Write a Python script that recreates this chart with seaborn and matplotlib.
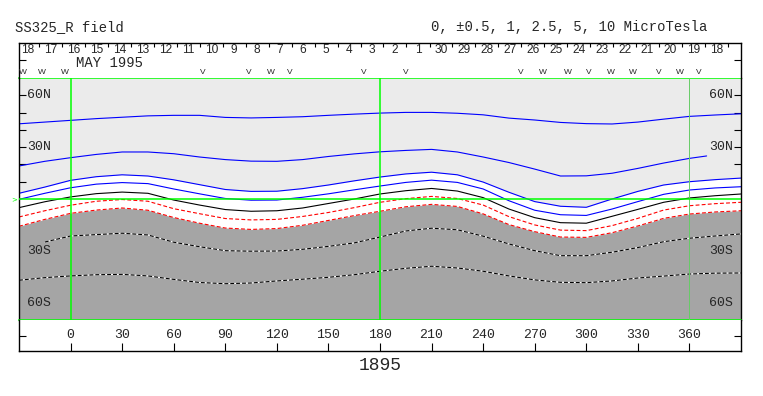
import numpy as np
import pandas as pd
import matplotlib
matplotlib.use('Agg')
import matplotlib.pyplot as plt
import seaborn as sns

# Carrington longitude grid (deg) and contour latitudes
LON = [-30, -15, 0, 15, 30, 45, 60, 75, 90, 105, 120, 135, 150, 165, 180,
       195, 210, 225, 240, 255, 270, 285, 300, 315, 330, 345, 360, 375, 390]

L1 = [43.5, 44.5, 45.5, 46.5, 47.3, 48.1, 48.4, 48.4, 47.2, 46.9, 47.2, 47.6, 48.4, 49.1, 49.7,
      50.1, 50.1, 49.6, 48.7, 46.8, 45.7, 44.3, 43.6, 43.4, 44.5, 46.2, 47.8, 48.6, 49.3]
L2_LON = LON[:27] + [370]
L2 = [19.1, 21.8, 23.9, 25.8, 27.2, 27.2, 26.2, 24.3, 22.8, 21.9, 21.8, 22.8, 24.6, 26.1, 27.3,
      28.1, 28.7, 27.2, 24.3, 21.1, 17.3, 13.3, 13.4, 14.9, 17.7, 20.8, 23.5, 24.9]
L3 = [3.3, 6.9, 10.8, 12.9, 14.0, 13.3, 11.1, 8.3, 5.5, 4.4, 4.5, 6.0, 8.1, 10.5, 12.7,
      14.5, 15.5, 14.0, 9.8, 3.9, -1.5, -4.2, -4.8, 0.0, 4.4, 8.1, 10.0, 11.2, 12.1]
L4 = [-0.2, 3.3, 6.5, 8.6, 9.5, 8.9, 5.8, 3.0, 0.3, -0.7, -0.6, 1.0, 3.0, 5.3, 7.5,
      9.6, 10.9, 9.6, 5.8, -1.0, -6.5, -9.1, -9.5, -5.8, -1.5, 2.7, 5.2, 6.4, 7.1]
L5 = [-5.0, -1.6, 1.2, 3.1, 4.0, 3.3, -0.6, -3.5, -6.1, -7.1, -6.8, -5.2, -2.6, 0.0, 2.9,
      4.8, 6.1, 4.6, 0.8, -5.8, -10.8, -13.7, -14.0, -10.0, -6.0, -1.9, 0.6, 1.9, 2.9]
L6 = [-10.4, -6.8, -3.6, -1.3, -0.3, -1.3, -5.6, -8.5, -11.3, -12.1, -11.8, -10.1, -7.8, -5.0, -1.9,
      0.2, 1.5, 0.3, -3.5, -10.2, -15.0, -18.0, -18.3, -15.4, -11.2, -6.4, -3.9, -2.7, -1.9]
L7 = [-15.8, -11.8, -8.3, -6.4, -5.2, -6.5, -10.7, -14.0, -16.8, -17.6, -17.1, -15.2, -12.4, -9.6, -7.1,
      -4.5, -3.1, -4.3, -8.6, -14.8, -18.9, -22.0, -22.2, -19.5, -15.6, -11.2, -8.7, -7.5, -6.8]
L8_LON = LON[1:]
L8 = [-24.9, -21.4, -20.6, -19.8, -20.8, -25.0, -27.6, -29.9, -30.2, -30.1, -29.1, -27.4, -25.4, -22.0,
      -18.5, -16.9, -17.8, -21.5, -26.0, -29.9, -32.8, -32.8, -30.8, -28.1, -24.7, -22.7, -21.4, -20.2]
L9 = [-47.0, -45.5, -44.5, -43.8, -43.6, -44.5, -46.5, -48.3, -49.0, -48.6, -47.4, -46.4, -45.3, -43.8, -41.8,
      -40.1, -38.9, -39.9, -41.8, -44.5, -46.8, -48.2, -48.4, -47.4, -45.7, -44.6, -43.4, -42.9, -42.8]

LAT_TICKS = [60, 30, -30, -60]
LAT_LABELS = ['60N', '30N', '30S', '60S']
LON_TICKS = [0, 30, 60, 90, 120, 150, 180, 210, 240, 270, 300, 330, 360]

# day-of-month labels along the top (time runs right to left)
DAY_LABELS = ['18', '19', '20', '21', '22', '23', '24', '25', '26', '27', '28', '29', '30',
              '1', '2', '3', '4', '5', '6', '7', '8', '9', '10', '11', '12', '13', '14',
              '15', '16', '17', '18']
DAY_LON = [375.7, 362.3, 349.0, 335.6, 322.3, 308.9, 295.6, 282.2, 268.8, 255.5, 242.1,
           228.8, 215.4, 202.1, 188.7, 175.3, 162.0, 148.6, 135.3, 121.9, 108.6, 95.2,
           81.8, 68.5, 55.1, 41.8, 28.4, 15.1, 1.7, -11.6, -25.0]
DAY_TICKS = [382.4, 369.0, 355.7, 342.3, 329.0, 315.6, 302.3, 288.9, 275.5, 262.2, 248.8,
             235.5, 222.1, 208.8, 195.4, 182.0, 168.7, 155.3, 142.0, 128.6, 115.3, 101.9,
             88.5, 75.2, 61.8, 48.5, 35.1, 21.8, 8.4, -4.9, -18.3]

MARK_LON = [-27.9, -16.9, -3.5, 76.8, 103.5, 116.3, 127.4, 170.4, 194.8, 261.7, 274.5,
            289.1, 301.3, 314.6, 327.4, 342.0, 354.2, 365.2]
MARK_TXT = ['W', 'W', 'W', 'V', 'V', 'W', 'V', 'V', 'V', 'V', 'W',
            'W', 'V', 'W', 'W', 'V', 'W', 'V']

sns.set_theme(style='white')
plt.rcParams['font.family'] = ['Liberation Mono', 'DejaVu Sans']

W, H = 763, 396
fig = plt.figure(figsize=(W / 100, H / 100), dpi=100)
ax = fig.add_axes([19 / W, 76 / H, 722 / W, 242 / H])
axt = fig.add_axes([19 / W, 318 / H, 722 / W, 35.3 / H])
axb = fig.add_axes([19 / W, 45 / H, 722 / W, 31 / H])

GREEN = '#00ff00'
LW = 0.8

# ---- main map
ax.set_facecolor('#ebebeb')
ax.fill_between(LON, L7, L3, color='white', lw=0, zorder=1)
ax.fill_between(LON, -70, L7, color='#a5a5a5', lw=0, zorder=1)

for yy in [L1, L3, L4]:
    sns.lineplot(x=LON, y=yy, ax=ax, color='#0000ff', lw=LW, sort=False, estimator=None)
sns.lineplot(x=L2_LON, y=L2, ax=ax, color='#0000ff', lw=LW, sort=False, estimator=None)
sns.lineplot(x=LON, y=L5, ax=ax, color='black', lw=LW, sort=False, estimator=None)
for yy in [L6, L7]:
    sns.lineplot(x=LON, y=yy, ax=ax, color='#ff0000', lw=LW, sort=False, estimator=None,
                 linestyle=(0, (3.5, 2)))
for xx, yy in [(L8_LON, L8), (LON, L9)]:
    sns.lineplot(x=xx, y=yy, ax=ax, color='white', lw=LW, sort=False, estimator=None)
    sns.lineplot(x=xx, y=yy, ax=ax, color='black', lw=LW, sort=False, estimator=None,
                 linestyle=(0, (3.5, 1.8)))

ax.axvline(0, color=GREEN, lw=1.1, zorder=5)
ax.axvline(180, color=GREEN, lw=1.1, zorder=5)
ax.axvline(360, color='#66cc66', lw=0.7, zorder=5)
ax.axhline(0, color=GREEN, lw=1.1, zorder=5)
ax.text(-30.8, 0, '>', color=GREEN, ha='right', va='center', fontsize=5,
        family='DejaVu Sans', clip_on=False)

ax.set_xlim(-30, 390)
ax.set_ylim(-70, 70)
ax.set_xticks([])
ax.set_yticks(list(range(-60, 61, 10)))
ax.tick_params(axis='y', direction='in', length=5, width=0.8, color='black',
               left=True, right=True, labelleft=False, labelright=False)
for s in ['top', 'bottom']:
    ax.spines[s].set_color(GREEN)
    ax.spines[s].set_linewidth(1.1)
for s in ['left', 'right']:
    ax.spines[s].set_color('black')
    ax.spines[s].set_linewidth(1.0)
ax.set_xlabel('')
ax.set_ylabel('')
for v, s in zip(LAT_TICKS, LAT_LABELS):
    ax.text(-25.2, v, s, ha='left', va='center', fontsize=9.5, zorder=6)
    ax.text(385.4, v, s, ha='right', va='center', fontsize=9.5, zorder=6)

# ---- top date strip
axt.set_facecolor('white')
axt.set_xlim(-30, 390)
axt.set_ylim(0, 1)
axt.spines['bottom'].set_visible(False)
for s in ['top', 'left', 'right']:
    axt.spines[s].set_color('black')
    axt.spines[s].set_linewidth(1.0)
axt.set_xticks(DAY_TICKS)
axt.tick_params(axis='x', direction='in', length=3, width=0.8, color='black',
                top=True, bottom=False, labeltop=False, labelbottom=False)
axt.set_yticks([0.5])
axt.tick_params(axis='y', direction='in', length=5, width=0.8, color='black',
                left=True, right=True, labelleft=False, labelright=False)
for x, s in zip(DAY_LON, DAY_LABELS):
    axt.text(x, 0.78, s, ha='center', va='center', fontsize=8.6, family='Liberation Sans')
axt.text(3, 0.43, 'MAY 1995', ha='left', va='center', fontsize=10)
for x, s in zip(MARK_LON, MARK_TXT):
    axt.text(x, 0.15, s, ha='center', va='center', fontsize=6, family='Liberation Sans')

# ---- bottom longitude strip
axb.set_facecolor('white')
axb.set_xlim(-30, 390)
axb.set_ylim(0, 1)
axb.spines['top'].set_visible(False)
for s in ['bottom', 'left', 'right']:
    axb.spines[s].set_color('black')
    axb.spines[s].set_linewidth(1.0)
axb.set_xticks(LON_TICKS)
axb.tick_params(axis='x', direction='in', length=6, width=0.8, color='black',
                bottom=True, top=False, labelbottom=False)
axb.set_yticks([0.5])
axb.tick_params(axis='y', direction='in', length=5, width=0.8, color='black',
                left=True, right=True, labelleft=False, labelright=False)
for x in LON_TICKS:
    axb.text(x, 0.5, str(x), ha='center', va='center', fontsize=9.5)

fig.text(15.3 / W, 1 - 27 / H, 'SS325_R field', ha='left', va='center', fontsize=10)
fig.text(431 / W, 1 - 27 / H, '0, \u00b10.5, 1, 2.5, 5, 10 MicroTesla', ha='left',
         va='center', fontsize=10)
fig.text(380 / W, 1 - 366 / H, '1895', ha='center', va='center', fontsize=13)

fig.savefig('out.png', dpi=100)
